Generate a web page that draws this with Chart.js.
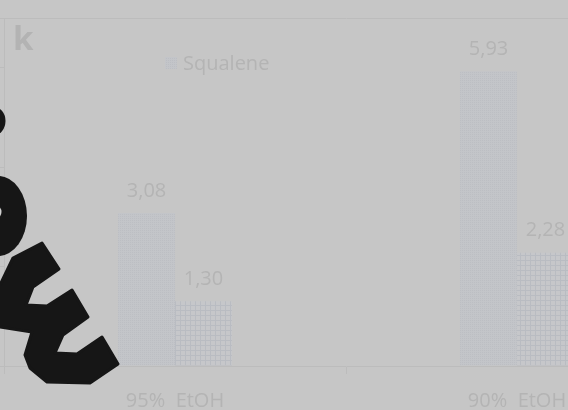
<!DOCTYPE html>
<html>
<head>
<meta charset="utf-8">
<script src="https://cdn.jsdelivr.net/npm/chart.js@4"></script>
<style>
  html, body { margin: 0; padding: 0; background: #c6c6c6; overflow: hidden; width: 568px; height: 410px; }
  #wrap { position: absolute; left: 0; top: 0; width: 700px; height: 410px; }
</style>
</head>
<body>
<div id="wrap"><canvas id="chart" width="700" height="410"></canvas></div>
<script>
const categories = ['95%  EtOH', '90%  EtOH'];
const squalene = [3.08, 5.93];
const second = [1.30, 2.28];
const seriesNames = ['Squalene', ''];
const yTicks = [0, 1, 2, 3, 4, 5, 6, 7];

const bg = '#c6c6c6';
const textColor = '#b4b4b4';
const lineColor = '#bcbcbc';

//helper to make the small fill patterns
function dotPattern() {
    const c = document.createElement('canvas');
    c.width = 2; c.height = 2;
    const g = c.getContext('2d');
    g.fillStyle = '#c3c5c9';
    g.fillRect(0, 0, 2, 2);
    g.fillStyle = '#bcbec3';
    g.fillRect(0, 0, 1, 1);
    return g.createPattern(c, 'repeat');
}
function gridPattern() {
    const c = document.createElement('canvas');
    c.width = 5; c.height = 5;
    const g = c.getContext('2d');
    g.fillStyle = '#c6c7ca';
    g.fillRect(0, 0, 5, 5);
    g.fillStyle = '#b9bcc2';
    g.fillRect(0, 0, 5, 1);
    g.fillRect(0, 0, 1, 5);
    return g.createPattern(c, 'repeat');
}
const fills = [dotPattern(), gridPattern()];

// value labels, legend, panel letter and the black overlay shape
const extras = {
    id: 'extras',
    afterDatasetsDraw(chart) {
        const ctx = chart.ctx;
        ctx.save();
        ctx.font = '20px "Open Sans"';
        ctx.fillStyle = textColor;
        ctx.textAlign = 'center';
        ctx.textBaseline = 'middle';
        chart.data.datasets.forEach((ds, i) => {
            chart.getDatasetMeta(i).data.forEach((bar, j) => {
                ctx.fillText(ds.data[j].toFixed(2).replace('.', ','), bar.x, bar.y - 22);
            });
        });
        // legend (first series only is visible)
        ctx.fillStyle = fills[0];
        ctx.fillRect(165, 57, 12, 12);
        ctx.fillStyle = textColor;
        ctx.textAlign = 'left';
        ctx.fillText(seriesNames[0], 183, 64);
        // panel letter
        ctx.font = 'bold 33px "Open Sans"';
        ctx.fillStyle = '#b3b3b3';
        ctx.textBaseline = 'alphabetic';
        ctx.fillText('k', 13, 50);
        ctx.restore();
    },
    afterDraw(chart) {
        const ctx = chart.ctx;
        ctx.save();
        ctx.fillStyle = '#161616';
        ctx.beginPath();
        ctx.ellipse(-6, 121, 11.5, 14, 0, 0, Math.PI * 2);
        ctx.fill();
        ctx.beginPath();
        ctx.ellipse(-2, 216, 29, 40, 0, 0, Math.PI * 2);
        ctx.fill();
        ctx.fillStyle = '#d0d0d0';
        ctx.beginPath();
        ctx.ellipse(-5, 212, 6.5, 7, 0, 0, Math.PI * 2);
        ctx.fill();
        ctx.fillStyle = '#161616';
        const pts = [[0,285],[13,258],[42,243],[59,269],[33,287],[26,305],[47,306],[72,290],
            [88,317],[63,335],[55,353],[77,354],[102,337],[118,364],[90,383],[47,382],
            [30,368],[25,355],[32,332],[0,327]];
        ctx.beginPath();
        ctx.lineJoin = 'round';
        pts.forEach((p, i) => i ? ctx.lineTo(p[0], p[1]) : ctx.moveTo(p[0], p[1]));
        ctx.closePath();
        ctx.fill();
        ctx.strokeStyle = '#161616';
        ctx.lineWidth = 3;
        ctx.stroke();
        ctx.restore();
    }
};

new Chart(document.querySelector('#chart').getContext('2d'), {
    type: 'bar',
    data: {
        labels: categories,
        datasets: [
            { label: seriesNames[0], data: squalene, backgroundColor: fills[0] },
            { label: seriesNames[1], data: second, backgroundColor: fills[1] }
        ]
    },
    options: {
        responsive: false,
        animation: false,
        devicePixelRatio: 1,
        layout: { padding: { top: 18, right: 12, left: 0, bottom: 0 } },
        datasets: { bar: { categoryPercentage: 0.333, barPercentage: 1 } },
        plugins: { legend: { display: false }, tooltip: { enabled: false } },
        scales: {
            x: {
                grid: { drawOnChartArea: false, tickLength: 8, color: lineColor },
                border: { color: lineColor },
                ticks: { color: textColor, font: { family: 'Open Sans', size: 20 }, padding: 15, maxRotation: 0 },
                afterFit(scale) { scale.height = 44; }
            },
            y: {
                min: yTicks[0],
                max: yTicks[yTicks.length - 1],
                ticks: { display: false, stepSize: 1 },
                grid: {
                    tickLength: 4,
                    tickColor: lineColor,
                    color: c => (c.tick && c.tick.value === yTicks[yTicks.length - 1]) ? lineColor : 'rgba(0,0,0,0)'
                },
                border: { color: lineColor },
                afterFit(scale) { scale.width = 4; }
            }
        }
    },
    plugins: [extras]
});
</script>
</body>
</html>
